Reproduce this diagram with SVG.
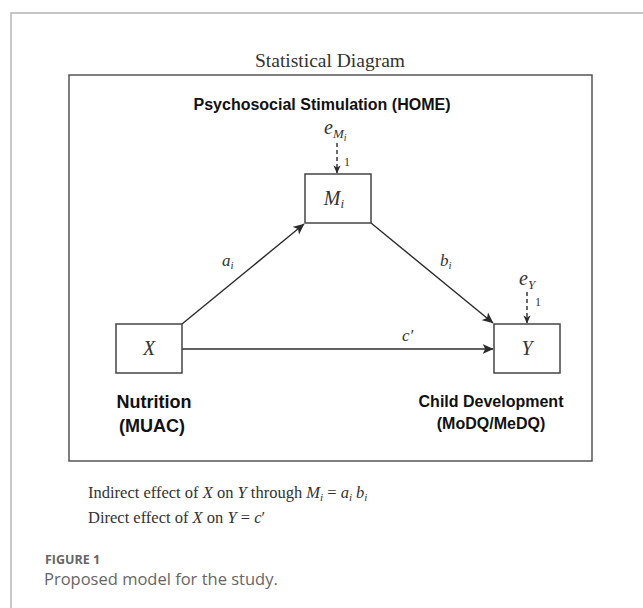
<svg xmlns="http://www.w3.org/2000/svg" width="643" height="608" viewBox="0 0 643 608">
<style>
.frame{fill:none;stroke:#b5b5b5;stroke-width:1.5}
.box{fill:#fff;stroke:#444;stroke-width:1.5}
.edge{fill:none;stroke:#2b2b2b;stroke-width:1.4}
.dash{fill:none;stroke:#2b2b2b;stroke-width:1.4;stroke-dasharray:4,3}
.tm{font-family:"Liberation Serif","Times New Roman",serif;fill:#333}
.it{font-style:italic}
.bd{font-family:"Liberation Sans",Arial,sans-serif;font-weight:bold;fill:#111}
.cap{font-family:"Open Sans","Noto Sans",sans-serif;fill:#666}
</style>
<defs>
<marker id="ah" viewBox="0 0 10 10" refX="9.5" refY="5" markerWidth="11" markerHeight="11" markerUnits="userSpaceOnUse" orient="auto">
<path d="M0,0.5 L10,5 L0,9.5 L2.5,5 Z" fill="#2b2b2b"/>
</marker>
<marker id="ahs" viewBox="0 0 10 10" refX="9.5" refY="5" markerWidth="8" markerHeight="8" markerUnits="userSpaceOnUse" orient="auto">
<path d="M0,0.5 L10,5 L0,9.5 L2.5,5 Z" fill="#2b2b2b"/>
</marker>
</defs>
<rect width="643" height="608" fill="#fff"/>
<path class="frame" d="M11,608 V13 H643"/>
<text class="tm" x="330" y="67" font-size="19.5" text-anchor="middle">Statistical Diagram</text>
<rect x="69" y="75" width="523" height="386" fill="none" stroke="#555" stroke-width="1.5"/>
<text class="bd" x="322" y="110" font-size="16" text-anchor="middle">Psychosocial Stimulation (HOME)</text>

<g id="connectors">
<path class="edge" d="M182,324 L304,224" marker-end="url(#ah)"/>
<path class="edge" d="M371,223 L493,323" marker-end="url(#ah)"/>
<path class="edge" d="M182,349 L493,349" marker-end="url(#ah)"/>
<path class="dash" d="M337,143 L337,173" marker-end="url(#ahs)"/>
<path class="dash" d="M527,292 L527,323" marker-end="url(#ahs)"/>
<text class="tm it" x="222" y="266" font-size="17">a<tspan font-size="11" dy="3">i</tspan></text>
<text class="tm it" x="440" y="266" font-size="17">b<tspan font-size="11" dy="3">i</tspan></text>
<text class="tm it" x="402" y="341" font-size="17">c′</text>
</g>

<g id="eM">
<text class="tm it" x="324" y="134" font-size="20">e<tspan font-size="13" dy="4">M</tspan><tspan font-size="10" dy="3">i</tspan></text>
<text class="tm" x="344" y="166" font-size="12">1</text>
</g>
<g id="M">
<rect class="box" x="305" y="174" width="66" height="49"/>
<text class="tm it" x="334" y="205" font-size="20" text-anchor="middle">M<tspan font-size="13" dy="3">i</tspan></text>
</g>
<g id="X">
<rect class="box" x="116" y="324" width="66" height="49"/>
<text class="tm it" x="149" y="355" font-size="20" text-anchor="middle">X</text>
<text class="bd" x="154" y="408" font-size="18" text-anchor="middle">Nutrition</text>
<text class="bd" x="152" y="432" font-size="18" text-anchor="middle">(MUAC)</text>
</g>
<g id="eY">
<text class="tm it" x="519" y="285" font-size="20">e<tspan font-size="13" dy="4">Y</tspan></text>
<text class="tm" x="535" y="306" font-size="12">1</text>
</g>
<g id="Y">
<rect class="box" x="494" y="324" width="66" height="49"/>
<text class="tm it" x="527" y="355" font-size="20" text-anchor="middle">Y</text>
<text class="bd" x="491" y="407" font-size="16" text-anchor="middle">Child Development</text>
<text class="bd" x="491" y="429" font-size="16" text-anchor="middle">(MoDQ/MeDQ)</text>
</g>

<text class="tm" x="88" y="498" font-size="16.5">Indirect effect of <tspan class="it">X</tspan> on <tspan class="it">Y</tspan> through <tspan class="it">M</tspan><tspan class="it" font-size="11" dy="3">i</tspan><tspan dy="-3"> = </tspan><tspan class="it">a</tspan><tspan class="it" font-size="11" dy="3">i</tspan><tspan dy="-3"> </tspan><tspan class="it">b</tspan><tspan class="it" font-size="11" dy="3">i</tspan></text>
<text class="tm" x="88" y="523" font-size="16.5">Direct effect of <tspan class="it">X</tspan> on <tspan class="it">Y</tspan> = <tspan class="it">c</tspan>′</text>

<text class="cap" x="45" y="564" font-size="12.5" font-weight="bold" fill="#777">FIGURE 1</text>
<text class="cap" x="44" y="585" font-size="16.5" fill="#555">Proposed model for the study.</text>
</svg>
